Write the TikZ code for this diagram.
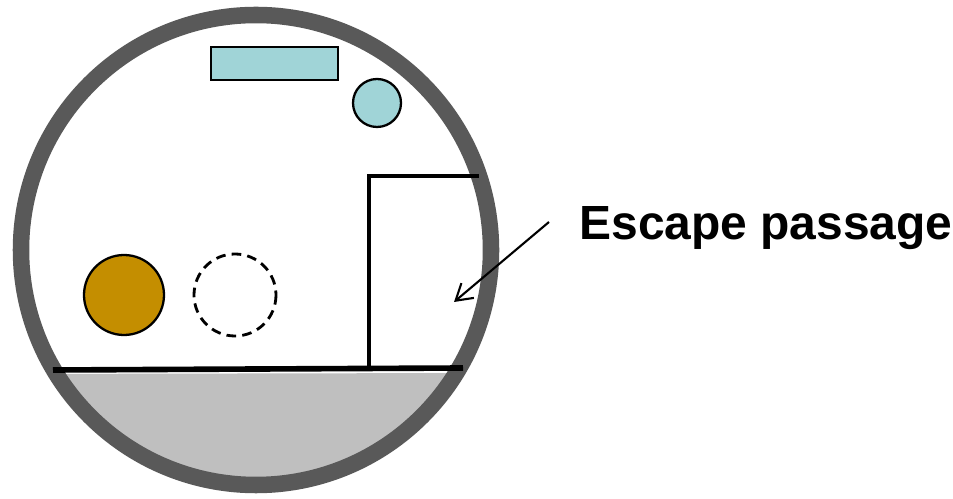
\documentclass[tikz,border=0pt]{standalone}
\usepackage{fontspec}
\newfontfamily\labelfont{Liberation Sans}
\usetikzlibrary{arrows.meta}
\definecolor{ringgray}{HTML}{595959}
\definecolor{floorgray}{HTML}{BFBFBF}
\definecolor{tankblue}{HTML}{A0D4D7}
\definecolor{ballgold}{HTML}{C48E00}
\tikzset{
  ring/.style={draw=ringgray,line width=9.4pt},
  wall/.style={line width=2.8pt},
  floorline/.style={line width=3.2pt},
  item/.style={draw=black,line width=1.3pt},
  pointer/.style={line width=1.2pt,-{Straight Barb[length=9pt,width=11pt]}}
}
\begin{document}
\begin{tikzpicture}[x=0.02cm,y=-0.02cm]
\useasboundingbox (0,0) rectangle (953,499);
% floor segment
\begin{scope}
\clip (256,250) circle [radius=235];
\fill[floorgray] (0,374) -- (953,372) -- (953,499) -- (0,499) -- cycle;
\end{scope}
\draw[ring] (256,250) circle [radius=235];
% floor and passage
\draw[floorline] (53,370) -- (463,368);
\draw[wall] (369,367) -- (369,176) -- (479,176);
% objects
\draw[item,fill=tankblue] (211,47) rectangle (338,80);
\draw[item,fill=tankblue] (377,103) circle [radius=24];
\draw[item,fill=ballgold] (124,295) circle [radius=40];
\draw[line width=1.6pt,dash pattern=on 5.5pt off 3.5pt] (235,295) circle [radius=41];
% label
\node[anchor=base west,inner sep=0pt,font=\labelfont\bfseries\fontsize{27.3}{32}\selectfont] (escape) at (579,240) {Escape passage};
\coordinate (tail) at (549,222);
\coordinate (tip) at (454,302);
\draw[pointer] (tail) -- (tip);
\end{tikzpicture}
\end{document}
